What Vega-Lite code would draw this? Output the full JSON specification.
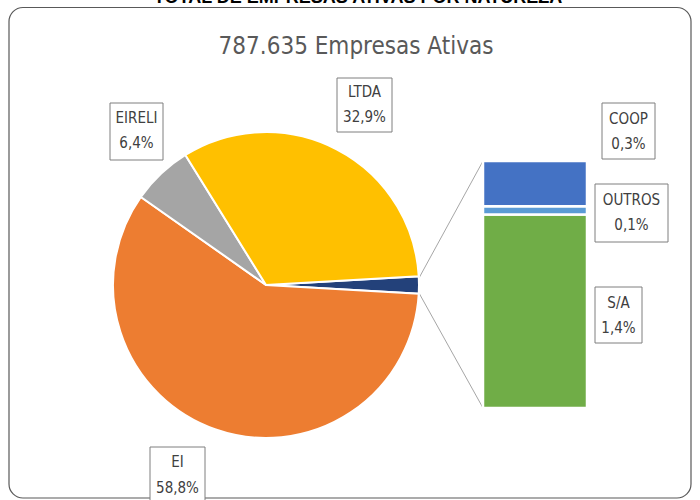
{
  "$schema": "https://vega.github.io/schema/vega-lite/v6.json",
  "width": 700,
  "height": 500,
  "autosize": {"type": "fit", "contains": "padding"},
  "padding": 0,
  "background": "white",
  "config": {"view": {"stroke": null}, "axis": {"disable": true}},
  "data": {"values": [{}]},
  "datasets": {
    "pie": [
      {"cat": "Outros tipos", "pct": 1.8, "txt": "1,8%", "ord": 1},
      {"cat": "EI", "pct": 58.8, "txt": "58,8%", "ord": 2},
      {"cat": "EIRELI", "pct": 6.4, "txt": "6,4%", "ord": 3},
      {"cat": "LTDA", "pct": 32.9, "txt": "32,9%", "ord": 4}
    ],
    "bar": [
      {"cat": "S/A", "pct": 1.41, "txt": "1,4%", "ord": 1},
      {"cat": "OUTROS", "pct": 0.06, "txt": "0,1%", "ord": 2},
      {"cat": "COOP", "pct": 0.33, "txt": "0,3%", "ord": 3}
    ]
  },
  "layer": [
    {
      "encoding": {
        "x": {"type": "quantitative", "scale": {"domain": [0, 700], "nice": false, "zero": false}, "axis": null},
        "y": {"type": "quantitative", "scale": {"domain": [0, 500], "nice": false, "zero": false, "reverse": true}, "axis": null}
      },
      "layer": [
        {
          "mark": {"type": "rect", "fill": "white", "stroke": "#595959", "strokeWidth": 1.2, "cornerRadius": 14},
          "encoding": {"x": {"datum": 9}, "x2": {"datum": 691}, "y": {"datum": 7.5}, "y2": {"datum": 498}}
        },
        {
          "mark": {"type": "text", "text": "TOTAL DE EMPRESAS ATIVAS POR NATUREZA", "font": "Liberation Sans", "fontWeight": "bold", "fontSize": 18, "fill": "black", "align": "center", "baseline": "alphabetic", "clip": true},
          "encoding": {"x": {"datum": 358}, "y": {"datum": 3}}
        },
        {
          "mark": {"type": "text", "text": "787.635 Empresas Ativas", "font": "DejaVu Sans Condensed", "fontSize": 24, "fill": "#595959", "align": "center", "baseline": "middle"},
          "encoding": {"x": {"datum": 356}, "y": {"datum": 47}}
        },
        {
          "mark": {"type": "rule", "stroke": "#a6a6a6", "strokeWidth": 1},
          "encoding": {"x": {"datum": 419}, "y": {"datum": 278}, "x2": {"datum": 483}, "y2": {"datum": 161}}
        },
        {
          "mark": {"type": "rule", "stroke": "#a6a6a6", "strokeWidth": 1},
          "encoding": {"x": {"datum": 419}, "y": {"datum": 293}, "x2": {"datum": 483}, "y2": {"datum": 408}}
        },
        {
          "data": {"name": "pie"},
          "mark": {"type": "arc", "radius": 153, "stroke": "white", "strokeWidth": 2},
          "encoding": {
            "x": {"datum": 266},
            "y": {"datum": 285},
            "theta": {"field": "pct", "type": "quantitative", "stack": true, "scale": {"range": [1.5142, 7.7974]}},
            "order": {"field": "ord", "type": "quantitative"},
            "color": {"field": "cat", "type": "nominal", "legend": null,
              "scale": {"domain": ["Outros tipos", "EI", "EIRELI", "LTDA", "COOP", "OUTROS", "S/A"],
                        "range": ["#23417a", "#ED7D31", "#A5A5A5", "#FFC000", "#4472C4", "#5B9BD5", "#70AD47"]}}
          }
        },
        {
          "data": {"name": "pie"},
          "transform": [{"filter": "datum.cat === 'EIRELI'"}],
          "layer": [
            {"mark": {"type": "rect", "fill": "white", "stroke": "#7f7f7f", "strokeWidth": 1},
             "encoding": {"x": {"datum": 110}, "x2": {"datum": 163}, "y": {"datum": 103}, "y2": {"datum": 160}}},
            {"mark": {"type": "text", "font": "DejaVu Sans Condensed", "fontSize": 15, "fill": "#404040", "align": "center", "baseline": "middle"},
             "encoding": {"x": {"datum": 136.5}, "y": {"datum": 118}, "text": {"field": "cat"}}},
            {"mark": {"type": "text", "font": "DejaVu Sans Condensed", "fontSize": 15, "fill": "#404040", "align": "center", "baseline": "middle"},
             "encoding": {"x": {"datum": 136.5}, "y": {"datum": 143}, "text": {"field": "txt"}}}
          ]
        },
        {
          "data": {"name": "pie"},
          "transform": [{"filter": "datum.cat === 'LTDA'"}],
          "layer": [
            {"mark": {"type": "rect", "fill": "white", "stroke": "#7f7f7f", "strokeWidth": 1},
             "encoding": {"x": {"datum": 337}, "x2": {"datum": 392}, "y": {"datum": 78}, "y2": {"datum": 132}}},
            {"mark": {"type": "text", "font": "DejaVu Sans Condensed", "fontSize": 15, "fill": "#404040", "align": "center", "baseline": "middle"},
             "encoding": {"x": {"datum": 364.5}, "y": {"datum": 92}, "text": {"field": "cat"}}},
            {"mark": {"type": "text", "font": "DejaVu Sans Condensed", "fontSize": 15, "fill": "#404040", "align": "center", "baseline": "middle"},
             "encoding": {"x": {"datum": 364.5}, "y": {"datum": 117}, "text": {"field": "txt"}}}
          ]
        },
        {
          "data": {"name": "pie"},
          "transform": [{"filter": "datum.cat === 'EI'"}],
          "layer": [
            {"mark": {"type": "rect", "fill": "white", "stroke": "#7f7f7f", "strokeWidth": 1, "clip": true},
             "encoding": {"x": {"datum": 150}, "x2": {"datum": 205}, "y": {"datum": 447}, "y2": {"datum": 512}}},
            {"mark": {"type": "text", "font": "DejaVu Sans Condensed", "fontSize": 15, "fill": "#404040", "align": "center", "baseline": "middle"},
             "encoding": {"x": {"datum": 177.5}, "y": {"datum": 462}, "text": {"field": "cat"}}},
            {"mark": {"type": "text", "font": "DejaVu Sans Condensed", "fontSize": 15, "fill": "#404040", "align": "center", "baseline": "middle"},
             "encoding": {"x": {"datum": 177.5}, "y": {"datum": 488}, "text": {"field": "txt"}}}
          ]
        },
        {
          "data": {"name": "bar"},
          "transform": [{"filter": "datum.cat === 'COOP'"}],
          "layer": [
            {"mark": {"type": "rect", "fill": "white", "stroke": "#7f7f7f", "strokeWidth": 1},
             "encoding": {"x": {"datum": 602}, "x2": {"datum": 655}, "y": {"datum": 103}, "y2": {"datum": 159}}},
            {"mark": {"type": "text", "font": "DejaVu Sans Condensed", "fontSize": 15, "fill": "#404040", "align": "center", "baseline": "middle"},
             "encoding": {"x": {"datum": 628.5}, "y": {"datum": 119}, "text": {"field": "cat"}}},
            {"mark": {"type": "text", "font": "DejaVu Sans Condensed", "fontSize": 15, "fill": "#404040", "align": "center", "baseline": "middle"},
             "encoding": {"x": {"datum": 628.5}, "y": {"datum": 144}, "text": {"field": "txt"}}}
          ]
        },
        {
          "data": {"name": "bar"},
          "transform": [{"filter": "datum.cat === 'OUTROS'"}],
          "layer": [
            {"mark": {"type": "rect", "fill": "white", "stroke": "#7f7f7f", "strokeWidth": 1},
             "encoding": {"x": {"datum": 595}, "x2": {"datum": 668}, "y": {"datum": 184}, "y2": {"datum": 242}}},
            {"mark": {"type": "text", "font": "DejaVu Sans Condensed", "fontSize": 15, "fill": "#404040", "align": "center", "baseline": "middle"},
             "encoding": {"x": {"datum": 631.5}, "y": {"datum": 200}, "text": {"field": "cat"}}},
            {"mark": {"type": "text", "font": "DejaVu Sans Condensed", "fontSize": 15, "fill": "#404040", "align": "center", "baseline": "middle"},
             "encoding": {"x": {"datum": 631.5}, "y": {"datum": 225}, "text": {"field": "txt"}}}
          ]
        },
        {
          "data": {"name": "bar"},
          "transform": [{"filter": "datum.cat === 'S/A'"}],
          "layer": [
            {"mark": {"type": "rect", "fill": "white", "stroke": "#7f7f7f", "strokeWidth": 1},
             "encoding": {"x": {"datum": 595}, "x2": {"datum": 642}, "y": {"datum": 287}, "y2": {"datum": 343}}},
            {"mark": {"type": "text", "font": "DejaVu Sans Condensed", "fontSize": 15, "fill": "#404040", "align": "center", "baseline": "middle"},
             "encoding": {"x": {"datum": 618.5}, "y": {"datum": 303}, "text": {"field": "cat"}}},
            {"mark": {"type": "text", "font": "DejaVu Sans Condensed", "fontSize": 15, "fill": "#404040", "align": "center", "baseline": "middle"},
             "encoding": {"x": {"datum": 618.5}, "y": {"datum": 328}, "text": {"field": "txt"}}}
          ]
        }
      ]
    },
    {
      "data": {"name": "bar"},
      "transform": [{"stack": "pct", "groupby": [], "sort": [{"field": "ord", "order": "ascending"}], "as": ["p0", "p1"]}],
      "mark": {"type": "rect", "stroke": "white", "strokeWidth": 2.5},
      "encoding": {
        "x": {"datum": 483},
        "x2": {"datum": 587},
        "y": {"field": "p0", "type": "quantitative", "scale": {"domain": [-0.67, 2.974], "nice": false, "zero": false}, "axis": null},
        "y2": {"field": "p1"},
        "color": {"field": "cat", "type": "nominal", "legend": null}
      }
    }
  ],
  "resolve": {"scale": {"y": "independent"}}
}
